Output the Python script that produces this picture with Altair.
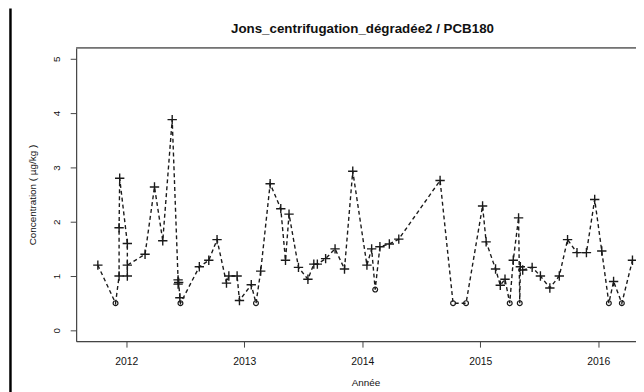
import altair as alt
import pandas as pd

# Sampling dates (decimal years), concentrations (µg/kg) and symbol type
annees = [
    2011.76, 2011.91, 2011.94, 2011.94, 2011.945, 2012.01, 2012.01, 2012.01,
    2012.16, 2012.24, 2012.31, 2012.39, 2012.44, 2012.44, 2012.445, 2012.455,
    2012.46, 2012.62, 2012.70, 2012.77, 2012.85, 2012.87, 2012.94, 2012.96,
    2013.06, 2013.10, 2013.14, 2013.22, 2013.31, 2013.35, 2013.38, 2013.46,
    2013.54, 2013.59, 2013.62, 2013.69, 2013.77, 2013.85, 2013.92, 2014.04,
    2014.08, 2014.11, 2014.15, 2014.23, 2014.31, 2014.66, 2014.77, 2014.88,
    2015.02, 2015.05, 2015.13, 2015.17, 2015.21, 2015.25, 2015.28, 2015.325,
    2015.335, 2015.34, 2015.36, 2015.44, 2015.51, 2015.59, 2015.67, 2015.74,
    2015.82, 2015.90, 2015.97, 2016.03, 2016.09, 2016.13, 2016.20, 2016.29,
]
concentrations = [
    1.20, 0.50, 1.00, 1.89, 2.80, 1.60, 1.00, 1.20,
    1.40, 2.64, 1.65, 3.88, 0.93, 0.85, 0.88, 0.60,
    0.50, 1.17, 1.29, 1.67, 0.87, 1.00, 1.00, 0.55,
    0.84, 0.50, 1.09, 2.70, 2.24, 1.29, 2.14, 1.16,
    0.94, 1.22, 1.22, 1.32, 1.50, 1.13, 2.93, 1.20,
    1.50, 0.75, 1.54, 1.59, 1.68, 2.76, 0.50, 0.50,
    2.29, 1.63, 1.13, 0.83, 0.94, 0.50, 1.29, 2.07,
    0.50, 1.17, 1.11, 1.16, 1.00, 0.78, 1.00, 1.67,
    1.43, 1.43, 2.41, 1.46, 0.50, 0.90, 0.50, 1.29,
]
types = [
    "+", "o", "+", "+", "+", "+", "+", "+",
    "+", "+", "+", "+", "+", "+", "+", "+",
    "o", "+", "+", "+", "+", "+", "+", "+",
    "+", "o", "+", "+", "+", "+", "+", "+",
    "+", "+", "+", "+", "+", "+", "+", "+",
    "+", "o", "+", "+", "+", "+", "o", "o",
    "+", "+", "+", "+", "+", "o", "+", "+",
    "o", "+", "+", "+", "+", "+", "+", "+",
    "+", "+", "+", "+", "o", "+", "o", "+",
]
x_ticks = [2012, 2013, 2014, 2015, 2016]
y_ticks = [0, 1, 2, 3, 4, 5]
titre = "Jons_centrifugation_dégradée2 / PCB180"

df = pd.DataFrame({
    "annee": annees,
    "conc": concentrations,
    "type": types,
    "ordre": list(range(len(annees))),
})

W, H = 567, 297
FONT = "Liberation Sans"
INK = "#1a1a1a"
FRAME = "#444444"

xscale = alt.Scale(domain=[2011.576, 2016.32], nice=False, zero=False)
yscale = alt.Scale(domain=[-0.2, 5.2], nice=False, zero=False)

x_axis = alt.Axis(
    values=x_ticks, format="d", grid=False,
    labelFont=FONT, labelFontSize=10.5, labelColor="#111", labelPadding=10,
    tickSize=6, tickColor=FRAME, domainColor=FRAME, domainWidth=1.2,
    title="Année", titleFont=FONT, titleFontSize=10, titleFontWeight="normal",
    titleColor="#111", titleX=293, titleY=42, titleAlign="center",
    titleBaseline="middle",
)
y_axis = alt.Axis(
    values=y_ticks, format="d", grid=False,
    labelFont=FONT, labelFontSize=10, labelColor="#111", labelAngle=270,
    labelAlign="center", labelBaseline="bottom", labelPadding=9,
    tickSize=6, tickColor=FRAME, domainColor=FRAME, domainWidth=1.2,
    title="Concentration ( µg/kg )", titleFont=FONT, titleFontSize=10,
    titleFontWeight="normal", titleColor="#111", titleAngle=270,
    titleX=-44, titleY=H / 2, titleAlign="center", titleBaseline="middle",
)

X = alt.X("annee:Q", scale=xscale, axis=x_axis)
Y = alt.Y("conc:Q", scale=yscale, axis=y_axis)

base = alt.Chart(df)

line = base.mark_line(
    color=INK, strokeDash=[4, 3], strokeWidth=1.4, clip=True
).encode(x=X, y=Y, order="ordre:Q")

plus = base.transform_filter(alt.datum.type == "+").mark_point(
    shape="M-1,0H1M0,-1V1", filled=False, size=90, strokeWidth=1.4,
    color=INK, opacity=1, clip=True,
).encode(x=X, y=Y)

circles = base.transform_filter(alt.datum.type == "o").mark_point(
    shape="circle", filled=False, size=24, strokeWidth=1.2,
    color=INK, opacity=1, clip=True,
).encode(x=X, y=Y)

one = alt.Chart(pd.DataFrame({"t": [titre]}))
top_line = one.mark_rule(color=FRAME, strokeWidth=1.2).encode(
    x=alt.value(0), x2=alt.value(W), y=alt.value(0)
)
left_bar = one.mark_rule(color="#000000", strokeWidth=2.5).encode(
    x=alt.value(-66.5), y=alt.value(-40), y2=alt.value(H + 60)
)
title_text = one.mark_text(
    font=FONT, fontSize=13.5, fontWeight="bold", color="#111",
    align="center", baseline="middle",
).encode(x=alt.value(W / 2 + 6.5), y=alt.value(-19), text="t:N")

chart = alt.layer(line, plus, circles, top_line, left_bar, title_text).properties(
    width=W, height=H,
    autosize=alt.AutoSizeParams(type="none"),
    padding={"left": 69, "top": 38, "right": 0, "bottom": 49},
).configure_view(stroke=None).configure(background="white")

chart.save("out.html", embed_options={"renderer": "svg", "actions": False})
